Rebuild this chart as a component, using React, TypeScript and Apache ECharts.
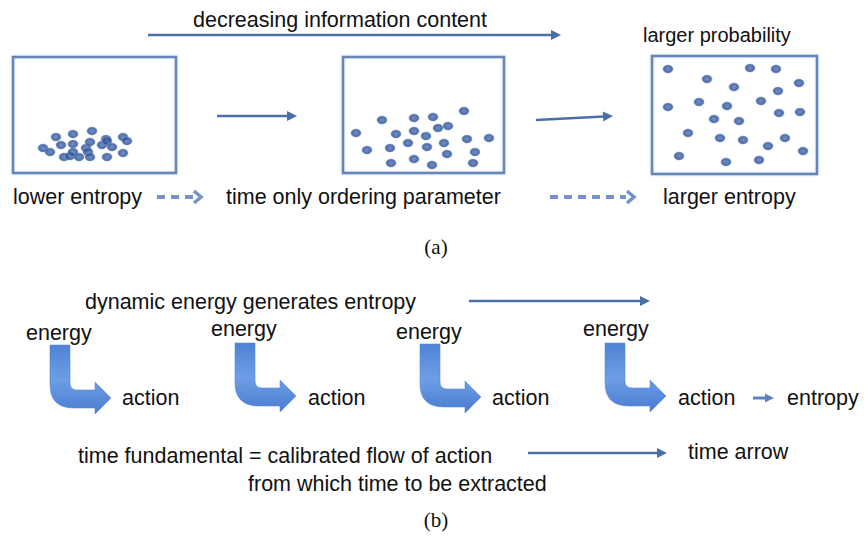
import React, { useEffect, useRef } from "react";
import * as echarts from "echarts";

// Dot positions (pixel-space coordinates of the diagram) for the three boxes
const lowEntropyDots: number[][] = [
  [43, 148], [50, 152], [56, 137], [61, 145], [64, 157], [70, 156], [73, 134], [73, 144],
  [73, 152], [79, 157], [86, 148], [88, 152], [90, 157], [90, 142], [92, 131], [102, 145],
  [106, 139], [107, 141], [107, 157], [112, 147], [123, 137], [127, 141], [123, 153],
];
const midEntropyDots: number[][] = [
  [356, 133], [367, 150], [382, 120], [390, 148], [391, 163], [396, 134], [408, 143], [414, 131],
  [414, 118], [414, 159], [426, 136], [427, 147], [432, 165], [433, 117], [438, 128], [444, 143],
  [447, 154], [448, 126], [464, 111], [467, 139], [475, 152], [473, 163], [489, 138],
];
const highEntropyDots: number[][] = [
  [668, 69], [707, 79], [750, 68], [776, 69], [799, 83], [734, 87], [778, 91], [699, 102],
  [668, 107], [727, 106], [761, 101], [779, 113], [800, 112], [714, 119], [739, 121], [688, 133],
  [720, 138], [743, 140], [785, 138], [768, 146], [803, 151], [679, 156], [726, 162], [759, 160],
];

const topLabels = ["decreasing information content", "larger probability"];
const rowALabels = ["lower entropy", "time only ordering parameter", "larger entropy"];
const captionLabels = ["(a)", "(b)"];
const rowBTitle = "dynamic energy generates entropy";
const energyLabels = ["energy", "energy", "energy", "energy"];
const actionLabels = ["action", "action", "action", "action"];
const entropyLabel = "entropy";
const bottomLabels = [
  "time fundamental = calibrated flow of action",
  "time arrow",
  "from which time to be extracted",
];

const FONT = "'Liberation Sans', Arial, Helvetica, sans-serif";
const SERIF = "'Liberation Serif', 'Times New Roman', serif";
const ARROW = "#4a6fa8";
const DASH = "#5b80c0";

echarts.graphic.registerShape(
  "bentArrow",
  echarts.graphic.extendPath(
    "M0,0 L20,0 L20,38 Q20,45 27,45 L45,45 L45,37 L61,53 L45,69 L45,63 L24,63 Q0,63 0,40 Z",
    {}
  )
);

function txt(text: string, x: number, y: number, size = 21.5, align = "left", family = FONT) {
  return {
    type: "text",
    x,
    y,
    silent: true,
    style: {
      text,
      fill: "#111111",
      fontSize: size,
      fontFamily: family,
      textAlign: align,
      textVerticalAlign: "middle",
      align,
      verticalAlign: "middle",
    },
  };
}

function arrow(x1: number, y1: number, x2: number, y2: number, color = ARROW, w = 2.5, head = 10) {
  const ang = Math.atan2(y2 - y1, x2 - x1);
  const bx = x2 - head * Math.cos(ang);
  const by = y2 - head * Math.sin(ang);
  const px = -Math.sin(ang) * head * 0.5;
  const py = Math.cos(ang) * head * 0.5;
  return [
    { type: "line", silent: true, shape: { x1, y1, x2: bx + 1, y2: by }, style: { stroke: color, lineWidth: w } },
    {
      type: "polygon",
      silent: true,
      shape: { points: [[x2, y2], [bx + px, by + py], [bx - px, by - py]] },
      style: { fill: color },
    },
  ];
}

function dashedArrow(x1: number, x2: number, y: number) {
  return [
    {
      type: "line",
      silent: true,
      shape: { x1, y1: y, x2: x2 - 8, y2: y },
      style: { stroke: DASH, lineWidth: 4, lineDash: [8, 6], opacity: 0.85 },
    },
    {
      type: "polyline",
      silent: true,
      shape: { points: [[x2 - 7, y - 6], [x2, y], [x2 - 7, y + 6]] },
      style: { stroke: DASH, lineWidth: 3.5, fill: null, opacity: 0.85 },
    },
  ];
}

function box(x: number, y: number, w: number, h: number) {
  return {
    type: "rect",
    silent: true,
    shape: { x, y, width: w, height: h },
    style: { stroke: "#6686bb", lineWidth: 2.5, fill: "none", shadowColor: "rgba(90,120,170,0.35)", shadowBlur: 2 },
  };
}

function bent(x: number, y: number) {
  return {
    type: "bentArrow",
    x,
    y,
    silent: true,
    style: {
      fill: {
        type: "linear",
        x: 0,
        y: 0,
        x2: 0,
        y2: 1,
        colorStops: [
          { offset: 0, color: "#4f82d6" },
          { offset: 0.5, color: "#6d9ee6" },
          { offset: 1, color: "#4a7ccf" },
        ],
      },
      stroke: "#5b8bd8",
      lineWidth: 0.6,
    },
  };
}

const dotStyle = {
  color: {
    type: "radial",
    x: 0.5,
    y: 0.5,
    r: 0.5,
    colorStops: [
      { offset: 0, color: "#4d74bb" },
      { offset: 0.6, color: "#2f559c" },
      { offset: 1, color: "#223f7e" },
    ],
  },
  borderColor: "rgba(130,160,210,0.7)",
  borderWidth: 1,
};

export default function App() {
  const ref = useRef<HTMLDivElement>(null);
  useEffect(() => {
    if (!ref.current) return;
    const chart = echarts.init(ref.current, null, { renderer: "svg" });
    const graphics: any[] = [
      box(13, 57, 163, 116),
      box(343, 57, 161, 116),
      box(652, 56, 165, 118),
      ...arrow(148, 35, 561, 35),
      ...arrow(217, 116, 297, 116),
      ...arrow(536, 120, 613, 116),
      ...dashedArrow(157, 201, 197),
      ...dashedArrow(550, 634, 197),
      ...arrow(469, 301, 650, 301),
      ...arrow(528, 453, 667, 453),
      ...arrow(753, 398, 774, 398, "#5b84c4", 3, 9),
      bent(50, 345),
      bent(235, 343),
      bent(420, 344),
      bent(605, 343),
      txt(topLabels[0], 193, 20),
      txt(topLabels[1], 643, 35, 20),
      txt(rowALabels[0], 13, 197),
      txt(rowALabels[1], 226, 197),
      txt(rowALabels[2], 663, 197),
      txt(captionLabels[0], 436, 247, 21, "center", SERIF),
      txt(rowBTitle, 85, 302),
      txt(energyLabels[0], 26, 333),
      txt(energyLabels[1], 211, 329),
      txt(energyLabels[2], 396, 332),
      txt(energyLabels[3], 583, 329),
      txt(actionLabels[0], 122, 398),
      txt(actionLabels[1], 308, 398),
      txt(actionLabels[2], 492, 398),
      txt(actionLabels[3], 678, 398),
      txt(entropyLabel, 787, 398),
      txt(bottomLabels[0], 78, 456),
      txt(bottomLabels[1], 688, 452),
      txt(bottomLabels[2], 248, 484),
      txt(captionLabels[1], 436, 520, 21, "center", SERIF),
    ];
    chart.setOption({
      animation: false,
      backgroundColor: "#ffffff",
      grid: { left: 0, right: 0, top: 0, bottom: 0 },
      xAxis: { type: "value", min: 0, max: 868, show: false },
      yAxis: { type: "value", min: 0, max: 537, inverse: true, show: false },
      series: [
        { type: "scatter", data: lowEntropyDots, symbolSize: [10, 8], itemStyle: dotStyle, silent: true, z: 5 },
        { type: "scatter", data: midEntropyDots, symbolSize: [10, 8], itemStyle: dotStyle, silent: true, z: 5 },
        { type: "scatter", data: highEntropyDots, symbolSize: [10, 8], itemStyle: dotStyle, silent: true, z: 5 },
      ],
      graphic: { elements: graphics },
    });
    return () => chart.dispose();
  }, []);
  return (
    <div
      ref={ref}
      style={{ position: "fixed", left: 0, top: 0, width: 868, height: 537, background: "#fff" }}
    />
  );
}
